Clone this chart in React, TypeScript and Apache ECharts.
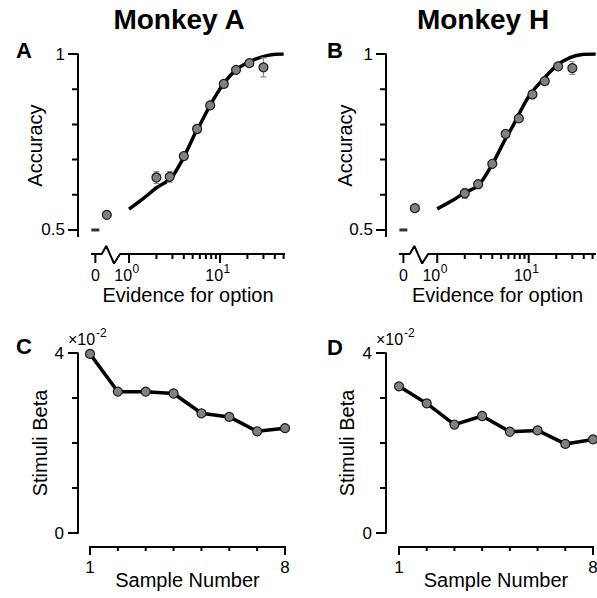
import React, { useEffect, useRef } from "react";
import * as echarts from "echarts";

const FONT = '"Liberation Sans", Arial, Helvetica, sans-serif';
const INK = "#000";
const MARKER_FILL = "#808080";
const MARKER_EDGE = "#1a1a1a";
const ERR_COLOR = "#8c8c8c";

// Evidence bins shared by both monkeys
const evidenceBins = [2, 2.8, 4, 5.6, 7.8, 11, 15, 21, 30];
const accuracyA = [0.649, 0.651, 0.71, 0.787, 0.854, 0.915, 0.955, 0.974, 0.962];
const accuracyErrA = [0.017, 0.015, 0.007, 0.005, 0.005, 0.005, 0.005, 0.005, 0.027];
const accuracyH = [0.604, 0.63, 0.688, 0.773, 0.817, 0.885, 0.923, 0.965, 0.96];
const accuracyErrH = [0.014, 0.006, 0.006, 0.005, 0.005, 0.005, 0.005, 0.004, 0.018];

// Low-evidence bin drawn inside the axis break, and the zero-evidence reference
const lowEvidence = 0.57;
const lowAccuracyA = 0.543;
const lowAccuracyH = 0.562;
const zeroEvidence = 0;
const chanceLevel = 0.5;

// Fitted psychometric curves
const fitEvidenceA = [1, 1.5, 2, 2.5, 3, 3.4, 4, 5.5, 6, 7.8, 11, 15, 21, 29, 40, 50];
const fitAccuracyA = [0.559, 0.593, 0.62, 0.635, 0.652, 0.674, 0.707, 0.782, 0.798, 0.855, 0.916, 0.955, 0.978, 0.992, 0.999, 1.0];
const fitEvidenceH = [1, 1.5, 2, 2.8, 4, 5.5, 6.8, 7.7, 10.3, 14.4, 20.2, 28.3, 40, 54];
const fitAccuracyH = [0.56, 0.585, 0.606, 0.626, 0.687, 0.756, 0.798, 0.826, 0.884, 0.928, 0.967, 0.99, 0.999, 1.0];

// Stimulus weights per sample position
const sampleNumbers = [1, 2, 3, 4, 5, 6, 7, 8];
const betaA = [0.0398, 0.0314, 0.0314, 0.031, 0.0266, 0.0258, 0.0226, 0.0233];
const betaH = [0.0326, 0.0288, 0.0241, 0.026, 0.0225, 0.0228, 0.0198, 0.0208];

// Ticks
const accuracyTicks = [0.5, 0.6, 0.7, 0.8, 0.9, 1];
const accuracyLabels = [0.5, 1];
const evidenceMajor = [0, 1, 10];
const evidenceMinor = [2, 3, 4, 5, 6, 7, 8, 9, 20, 30, 40, 50];
const betaTicks = [0, 0.01, 0.02, 0.03, 0.04];
const betaLabels = [0, 0.04];
const sampleMajor = [1, 8];

// Evidence axis works in log10 units; zero sits left of the break
const ZERO_POS = -0.37;
const toAxis = (e: number) => (e === 0 ? ZERO_POS : Math.log10(e));
const BREAK_AT = [-0.3, -0.25, -0.165, -0.099];

type Box = { left: number; top: number; width: number; height: number };
const boxes: Box[] = [
  { left: 91, top: 54, width: 194, height: 183 },
  { left: 399, top: 54, width: 197, height: 183 },
  { left: 90, top: 353, width: 195, height: 180 },
  { left: 399, top: 353, width: 194, height: 180 },
];

type Panel = {
  kind: "evidence" | "sample";
  xMin: number;
  xMax: number;
  yMin: number;
  yMax: number;
  yTicks: number[];
  yLabels: number[];
  yFmt: (v: number) => string;
  yOff: number;
  yLabelGap: number;
  yName: string;
  yNameX: number;
  xOff: number;
  xName: string;
  xNameY: number;
  letter: string;
  letterX: number;
  letterY: number;
};

const accFmt = (v: number) => (v === 1 ? "1" : String(v));
const betaFmt = (v: number) => String(Math.round(v * 100));

const panels: Panel[] = [
  {
    kind: "evidence", xMin: -0.418, xMax: 1.714, yMin: 0.48, yMax: 1,
    yTicks: accuracyTicks, yLabels: accuracyLabels, yFmt: accFmt, yOff: 13, yLabelGap: 13,
    yName: "Accuracy", yNameX: 35, xOff: 17, xName: "Evidence for option", xNameY: 295,
    letter: "A", letterX: 24, letterY: 50,
  },
  {
    kind: "evidence", xMin: -0.418, xMax: 1.736, yMin: 0.48, yMax: 1,
    yTicks: accuracyTicks, yLabels: accuracyLabels, yFmt: accFmt, yOff: 13, yLabelGap: 13,
    yName: "Accuracy", yNameX: 345, xOff: 17, xName: "Evidence for option", xNameY: 295,
    letter: "B", letterX: 335, letterY: 50,
  },
  {
    kind: "sample", xMin: 1, xMax: 8, yMin: 0, yMax: 0.04,
    yTicks: betaTicks, yLabels: betaLabels, yFmt: betaFmt, yOff: 12, yLabelGap: 14,
    yName: "Stimuli Beta", yNameX: 40, xOff: 14, xName: "Sample Number", xNameY: 580,
    letter: "C", letterX: 24, letterY: 346,
  },
  {
    kind: "sample", xMin: 1, xMax: 8, yMin: 0, yMax: 0.04,
    yTicks: betaTicks, yLabels: betaLabels, yFmt: betaFmt, yOff: 13, yLabelGap: 14,
    yName: "Stimuli Beta", yNameX: 347, xOff: 14, xName: "Sample Number", xNameY: 580,
    letter: "D", letterX: 335, letterY: 347,
  },
];

const hiddenAxis = {
  axisLine: { show: false, onZero: false },
  axisTick: { show: false },
  axisLabel: { show: false },
  splitLine: { show: false },
};

const markerStyle = { color: MARKER_FILL, borderColor: MARKER_EDGE, borderWidth: 1.2, opacity: 1 };

function errorBars(axis: number, acc: number[], err: number[]) {
  return {
    type: "custom",
    xAxisIndex: axis,
    yAxisIndex: axis,
    z: 3,
    data: evidenceBins.map((e, i) => [toAxis(e), acc[i], err[i]]),
    renderItem: (_p: any, api: any) => {
      const x = api.value(0);
      const y = api.value(1);
      const e = api.value(2);
      const hi = api.coord([x, y + e]);
      const lo = api.coord([x, y - e]);
      const w = 3;
      // one stroke: top cap, bar, bottom cap
      return {
        type: "polyline",
        shape: {
          points: [
            [hi[0] - w, hi[1]],
            [hi[0], hi[1]],
            [lo[0], lo[1]],
            [lo[0] - w, lo[1]],
            [lo[0] + w, lo[1]],
            [lo[0], lo[1]],
            [hi[0], hi[1]],
            [hi[0] + w, hi[1]],
          ],
        },
        style: { stroke: ERR_COLOR, lineWidth: 1.2, fill: null, lineJoin: "bevel" },
      };
    },
  };
}

function psychometricSeries(axis: number, fitE: number[], fitAcc: number[], acc: number[], err: number[], lowAcc: number) {
  return [
    {
      type: "line", xAxisIndex: axis, yAxisIndex: axis, z: 2,
      data: fitE.map((e, i) => [toAxis(e), fitAcc[i]]),
      showSymbol: false, symbol: "none", smooth: 0.3,
      lineStyle: { color: INK, width: 3.5 },
    },
    errorBars(axis, acc, err),
    {
      type: "scatter", xAxisIndex: axis, yAxisIndex: axis, z: 4,
      data: evidenceBins.map((e, i) => [toAxis(e), acc[i]]),
      symbol: "circle", symbolSize: 9, itemStyle: markerStyle,
    },
    {
      type: "scatter", xAxisIndex: axis, yAxisIndex: axis, z: 4,
      data: [[toAxis(lowEvidence), lowAcc]],
      symbol: "circle", symbolSize: 9, itemStyle: markerStyle,
    },
    {
      type: "scatter", xAxisIndex: axis, yAxisIndex: axis, z: 4,
      data: [[toAxis(zeroEvidence), chanceLevel]],
      symbol: "rect", symbolSize: [8, 3], itemStyle: { color: INK },
    },
  ];
}

function betaSeries(axis: number, beta: number[]) {
  return {
    type: "line", xAxisIndex: axis, yAxisIndex: axis, z: 3,
    data: sampleNumbers.map((s, i) => [s, beta[i]]),
    symbol: "circle", symbolSize: 9, showSymbol: true,
    lineStyle: { color: INK, width: 3.5 },
    itemStyle: markerStyle,
  };
}

function buildOption() {
  return {
    animation: false,
    backgroundColor: "#fff",
    textStyle: { fontFamily: FONT },
    grid: boxes.map((b) => ({ ...b, containLabel: false, outerBoundsMode: "none" })),
    xAxis: panels.map((p, g) => ({ type: "value", gridIndex: g, min: p.xMin, max: p.xMax, ...hiddenAxis })),
    yAxis: panels.map((p, g) => ({ type: "value", gridIndex: g, min: p.yMin, max: p.yMax, ...hiddenAxis })),
    series: [
      ...psychometricSeries(0, fitEvidenceA, fitAccuracyA, accuracyA, accuracyErrA, lowAccuracyA),
      ...psychometricSeries(1, fitEvidenceH, fitAccuracyH, accuracyH, accuracyErrH, lowAccuracyH),
      betaSeries(2, betaA),
      betaSeries(3, betaH),
    ],
  };
}

function stroke(points: number[][]) {
  return {
    type: "polyline",
    z: 15,
    shape: { points },
    style: { stroke: INK, lineWidth: 2, fill: null, lineJoin: "bevel", lineCap: "butt" },
  };
}

function label(text: string, x: number, y: number, size: number, align: string, vAlign = "middle", bold = false, rotation = 0) {
  return {
    type: "text",
    z: 16,
    x,
    y,
    rotation,
    style: {
      text,
      fill: INK,
      fontFamily: FONT,
      fontSize: size,
      fontWeight: bold ? "bold" : "normal",
      align,
      verticalAlign: vAlign,
    },
  };
}

// axis lines with their ticks, tick labels and titles, laid out from the grid scales
function axisGraphics(chart: echarts.ECharts) {
  const out: any[] = [];
  panels.forEach((p, g) => {
    const px = (v: number) => chart.convertToPixel({ xAxisIndex: g } as any, v) as number;
    const py = (v: number) => chart.convertToPixel({ yAxisIndex: g } as any, v) as number;
    const axisX = px(p.xMin) - p.yOff;
    const axisY = py(p.yMin) + p.xOff;

    // y axis: spine with outward ticks, drawn top to bottom
    const yPts: number[][] = [];
    [...p.yTicks].sort((a, b) => b - a).forEach((v, i) => {
      const len = p.yLabels.includes(v) ? 10 : 6;
      if (i === 0) yPts.push([axisX - len, py(v)], [axisX, py(v)]);
      else yPts.push([axisX, py(v)], [axisX - len, py(v)], [axisX, py(v)]);
    });
    yPts.push([axisX, py(p.yMin)]);
    out.push(stroke(yPts));
    p.yLabels.forEach((v) => out.push(label(p.yFmt(v), axisX - p.yLabelGap, py(v), 17, "right")));
    out.push(label(p.yName, p.yNameX, (py(p.yMin) + py(p.yMax)) / 2, 20, "center", "middle", false, Math.PI / 2));

    // x axis
    const xPts: number[][] = [];
    const tickAt = (x: number, len: number) => xPts.push([x, axisY], [x, axisY + len], [x, axisY]);
    if (p.kind === "evidence") {
      xPts.push([px(p.xMin), axisY]);
      tickAt(px(toAxis(0)), 9);
      xPts.push(
        [px(BREAK_AT[0]), axisY],
        [px(BREAK_AT[1]), axisY - 8],
        [px(BREAK_AT[2]), axisY + 9.5],
        [px(BREAK_AT[3]), axisY]
      );
      const upper = [...evidenceMajor.filter((e) => e > 0), ...evidenceMinor].sort((a, b) => a - b);
      upper.forEach((e) => tickAt(px(toAxis(e)), evidenceMajor.includes(e) ? 9 : 5));
      xPts.push([px(p.xMax), axisY]);
      out.push(stroke(xPts));
      evidenceMajor.forEach((e) => {
        const x = px(toAxis(e));
        if (e === 0) {
          out.push(label("0", x, axisY + 21, 16, "center"));
        } else {
          out.push(label("10", x + 3, axisY + 21.5, 16, "right"));
          out.push(label(String(Math.round(Math.log10(e))), x + 3.5, axisY + 15, 12, "left"));
        }
      });
    } else {
      xPts.push([px(p.xMin) - 1, axisY]);
      sampleNumbers.forEach((s) => tickAt(px(s), sampleMajor.includes(s) ? 8 : 4));
      xPts.push([px(p.xMax) + 1, axisY]);
      out.push(stroke(xPts));
      sampleMajor.forEach((s) => out.push(label(String(s), px(s), axisY + 20, 17, "center")));
      // exponent note above the y axis
      out.push(label("×10", axisX - 10, py(p.yMax) - 14, 16, "left"));
      out.push(label("-2", axisX + 18, py(p.yMax) - 20, 12, "left"));
    }
    out.push(label(p.xName, (px(p.xMin) + px(p.xMax)) / 2, p.xNameY, 20, "center"));
    out.push(label(p.letter, p.letterX, p.letterY, 22, "center", "middle", true));
  });
  out.push(label("Monkey A", 179, 19, 28, "center", "middle", true));
  out.push(label("Monkey H", 483, 19, 28, "center", "middle", true));
  return out;
}

export default function App() {
  const ref = useRef<HTMLDivElement>(null);

  useEffect(() => {
    if (!ref.current) return;
    const chart = echarts.init(ref.current, null, { renderer: "svg" });
    chart.setOption(buildOption() as any);
    chart.setOption({ graphic: axisGraphics(chart) } as any);
    return () => chart.dispose();
  }, []);

  return <div ref={ref} style={{ position: "absolute", left: 0, top: 0, width: 597, height: 598 }} />;
}
